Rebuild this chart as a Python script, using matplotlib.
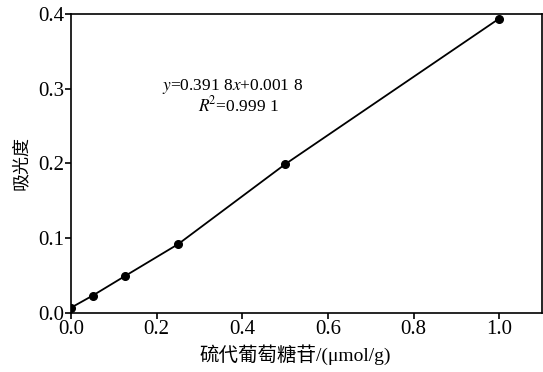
import numpy as np
import matplotlib.pyplot as plt

# calibration data
conc = [0.0, 0.05, 0.125, 0.25, 0.5, 1.0]
absorb = [0.007, 0.023, 0.049, 0.092, 0.199, 0.394]
xticks = [0.0, 0.2, 0.4, 0.6, 0.8, 1.0]
yticks = [0.0, 0.1, 0.2, 0.3, 0.4]

plt.rcParams['font.family'] = ['Liberation Serif', 'Noto Sans CJK SC']
plt.rcParams['mathtext.fontset'] = 'stix'

fig = plt.figure(figsize=(5.43, 3.72), dpi=100)
ax = fig.add_axes([0.131, 0.159, 0.867, 0.803])

ax.plot(conc, absorb, color='black', lw=1.3, marker='o', ms=5.5)

ax.set_xlim(0, 1.1)
ax.set_ylim(0, 0.4)
ax.set_xticks(xticks)
ax.set_yticks(yticks)
ax.set_xticklabels([f"{v:.1f}" for v in xticks])
ax.set_yticklabels([f"{v:.1f}" for v in yticks])
ax.tick_params(direction='out', length=4, width=1.2, labelsize=15, pad=1)
for s in ax.spines.values():
    s.set_linewidth(1.2)

# fitted equation
ax.text(0.376, 0.290, "$y$=0.391 8$x$+0.001 8\n   $R$$^2$=0.999 1", ha='center', va='center',
        fontsize=12.5, linespacing=1.0, multialignment='center')

ax.set_xlabel("硫代葡萄糖苷/(μmol/g)", fontsize=14, labelpad=3)
ax.xaxis.set_label_coords(0.476, -0.105)
ax.set_ylabel("吸光度", fontsize=13, family=['Noto Sans CJK SC'], labelpad=6)

fig.savefig('out.png', dpi=100)
